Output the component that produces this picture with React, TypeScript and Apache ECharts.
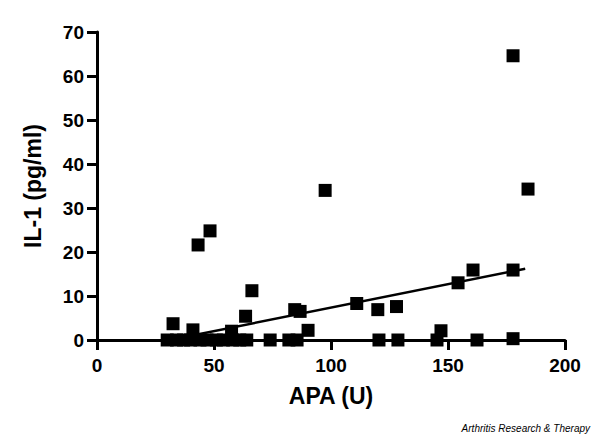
import React, { useEffect, useRef } from "react";
import * as echarts from "echarts";

const apaValues: number[] = [
  97.5, 48.3, 43.2, 66.2, 32.5, 63.5, 84.5, 86.8, 90.2, 41, 57.5, 111, 120, 128, 147, 154.3, 160.7, 177.8, 184.2, 177.8,
  30, 34, 37, 40, 44, 47, 51, 54, 58, 61, 64, 74, 82, 85.5, 120.5, 128.6, 145.3, 162.4, 177.8,
];
const il1Values: number[] = [
  34.0, 24.8, 21.6, 11.2, 3.7, 5.4, 6.9, 6.5, 2.2, 2.3, 2.0, 8.3, 6.9, 7.6, 2.1, 13.0, 15.9, 15.9, 34.3, 64.6,
  0, 0, 0, 0, 0, 0, 0, 0, 0, 0, 0, 0, 0, 0, 0, 0, 0, 0, 0.3,
];
const fitX: number[] = [31, 183];
const fitY: number[] = [0.0, 16.2];
const xTicks: number[] = [0, 50, 100, 150, 200];
const yTicks: number[] = [0, 10, 20, 30, 40, 50, 60, 70];

export default function App() {
  const ref = useRef<HTMLDivElement>(null);
  useEffect(() => {
    if (!ref.current) return;
    const chart = echarts.init(ref.current, null, { renderer: "svg" });
    const font = "Liberation Sans, Arial, sans-serif";
    const axisCommon = {
      axisLine: { show: true, lineStyle: { color: "#000", width: 3 } },
      axisTick: { show: true, inside: false, length: 10, lineStyle: { color: "#000", width: 3 } },
      splitLine: { show: false },
      nameLocation: "middle" as const,
      nameTextStyle: { color: "#000", fontSize: 23, fontWeight: "bold" as const, fontFamily: font },
    };
    chart.setOption({
      animation: false,
      backgroundColor: "#fff",
      grid: { left: 97, right: 35, top: 32, bottom: 100, containLabel: false },
      xAxis: {
        ...axisCommon,
        type: "value",
        min: xTicks[0],
        max: xTicks[xTicks.length - 1],
        interval: 50,
        name: "APA (U)",
        nameGap: 44,
        axisLabel: { color: "#000", fontSize: 19, fontWeight: "bold", fontFamily: font, margin: 16 },
      },
      yAxis: {
        ...axisCommon,
        type: "value",
        min: yTicks[0],
        max: yTicks[yTicks.length - 1],
        interval: 10,
        name: "IL-1 (pg/ml)",
        nameGap: 53,
        axisLabel: { color: "#000", fontSize: 19, fontWeight: "bold", fontFamily: font, margin: 13 },
      },
      series: [
        {
          type: "line",
          data: fitX.map((x, i) => [x, fitY[i]]),
          symbol: "none",
          lineStyle: { color: "#000", width: 2.5 },
          z: 3,
        },
        {
          type: "scatter",
          data: apaValues.map((x, i) => [x, il1Values[i]]),
          symbol: "rect",
          symbolSize: 13,
          itemStyle: { color: "#000", opacity: 1 },
          clip: false,
          z: 4,
        },
      ],
      graphic: [
        {
          type: "text",
          right: 10,
          top: 423,
          style: {
            text: "Arthritis Research & Therapy",
            fill: "#000",
            font: "italic 10px Liberation Sans, Arial, sans-serif",
          },
        },
      ],
    });
    return () => chart.dispose();
  }, []);
  return <div ref={ref} style={{ width: 600, height: 440, position: "absolute", left: 0, top: 0 }} />;
}
